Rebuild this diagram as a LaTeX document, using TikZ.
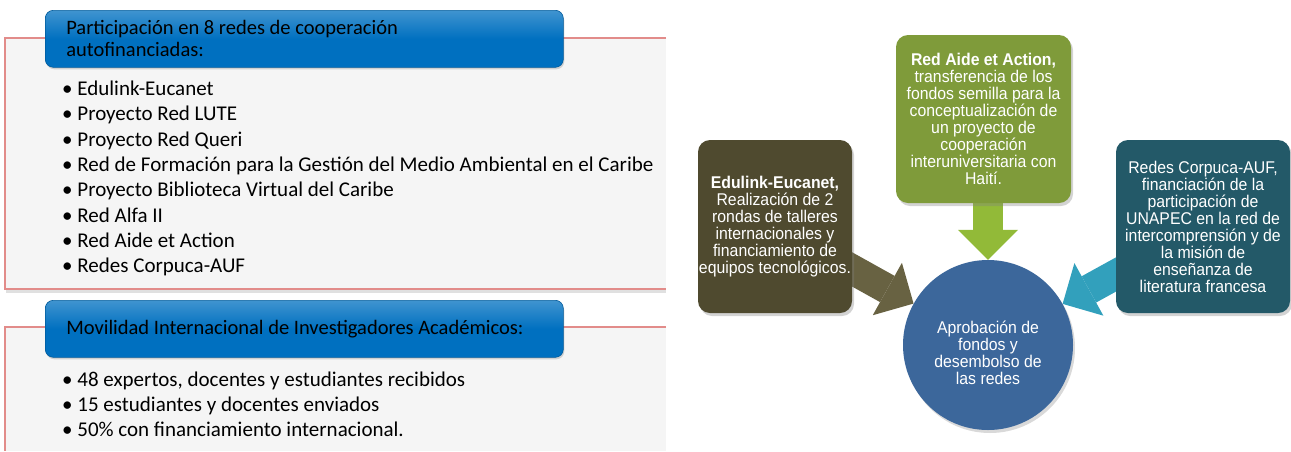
\documentclass[tikz,border=0pt]{standalone}
\usepackage{fontspec}
\setmainfont{Carlito}
\newfontfamily\smartfont[FakeStretch=0.93]{Liberation Sans}
\usepackage{tikz}
\usetikzlibrary{
  arrows.meta,
  positioning,
  shadows,
  backgrounds
}
\definecolor{panelline}{RGB}{226,140,138}
\definecolor{panelfill}{RGB}{245,245,245}
\definecolor{headblue}{RGB}{0,112,192}
\definecolor{oliveC}{RGB}{79,74,47}
\definecolor{greenC}{RGB}{127,155,58}
\definecolor{tealC}{RGB}{35,89,104}
\definecolor{hubC}{RGB}{60,103,155}
\definecolor{oliveA}{RGB}{104,98,66}
\definecolor{greenA}{RGB}{146,186,56}
\definecolor{tealA}{RGB}{50,160,188}

\tikzset{
  header/.style={draw=headblue!80!black, line width=0.6pt, rounded corners=8pt,
    top color=headblue!75!white, bottom color=headblue, middle color=headblue,
    drop shadow={opacity=0.3, shadow xshift=1pt, shadow yshift=-2pt},
    anchor=north west, minimum width=518pt, minimum height=57pt,
    text width=476pt, inner xsep=21pt, inner ysep=0pt, align=flush left,
    font=\fontsize{20.5}{22}\selectfont},
  item/.style={anchor=base west, inner sep=0pt},
  rbox/.style={rounded corners=12pt, text=white, align=center, inner sep=0pt,
    drop shadow={opacity=0.35, shadow xshift=2pt, shadow yshift=-3pt},
    font=\smartfont\fontsize{17}{17}\selectfont},
  blockarrow/.style={line width=30pt, -{Triangle[width=60pt, length=30pt, line width=0pt]}}
}

\begin{document}
\begin{tikzpicture}[x=1pt, y=-1pt, every node/.style={font=\fontsize{21}{25}\selectfont}]
  \useasboundingbox (0,0) rectangle (1291,451);

  % Panels
  \fill[panelfill] (5,38) rectangle (666,289);
  \draw[black!12, line width=3pt] (6,291.5) -- (666,291.5);
  \draw[panelline, line width=1.2pt] (666,38) -- (5,38) -- (5,289) -- (666,289);
  \fill[panelfill] (5,327) rectangle (666,451);
  \draw[panelline, line width=1.2pt] (666,327) -- (5,327) -- (5,451);

  % Headers
  \node[header] (redes) at (45,10) {Participación en 8 redes de cooperación\\autofinanciadas:};
  \node[header] (movil) at (45,300) {Movilidad Internacional de Investigadores Académicos:};

  % Redes
  \node[item] (r1) at (62,95) {\textbullet\ Edulink-Eucanet};
  \node[item] (r2) at (62,120) {\textbullet\ Proyecto Red LUTE};
  \node[item] (r3) at (62,146) {\textbullet\ Proyecto Red Queri};
  \node[item] (r4) at (62,171) {\textbullet\ Red de Formación para la Gestión del Medio Ambiental en el Caribe};
  \node[item] (r5) at (62,196) {\textbullet\ Proyecto Biblioteca Virtual del Caribe};
  \node[item] (r6) at (62,222) {\textbullet\ Red Alfa II};
  \node[item] (r7) at (62,247) {\textbullet\ Red Aide et Action};
  \node[item] (r8) at (62,272) {\textbullet\ Redes Corpuca-AUF};

  % Movilidad
  \node[item] (m1) at (62,386) {\textbullet\ 48 expertos, docentes y estudiantes recibidos};
  \node[item] (m2) at (62,411) {\textbullet\ 15 estudiantes y docentes enviados};
  \node[item] (m3) at (62,436) {\textbullet\ 50\% con financiamiento internacional.};

  % Right diagram
  \node[rbox, fill=oliveC, minimum width=154pt, minimum height=173pt] (edu) at (775,226.5)
    {\textbf{Edulink-Eucanet,}\\Realización de 2\\rondas de talleres\\internacionales y\\financiamiento de\\equipos tecnológicos.};
  \node[rbox, fill=greenC, minimum width=175pt, minimum height=168pt] (aide) at (983.5,119)
    {\textbf{Red Aide et Action,}\\transferencia de los\\fondos semilla para la\\conceptualización de\\un proyecto de\\cooperación\\interuniversitaria con\\Haití.};
  \node[rbox, fill=tealC, minimum width=174pt, minimum height=173pt] (corp) at (1203,226.5)
    {Redes Corpuca-AUF,\\financiación de la\\participación de\\UNAPEC en la red de\\intercomprensión y de\\la misión de\\enseñanza de\\literatura francesa};
  \node[circle, fill=hubC, minimum size=170pt, inner sep=0pt, text=white, align=center,
    drop shadow={opacity=0.3, shadow xshift=2pt, shadow yshift=-3pt},
    font=\smartfont\fontsize{17}{17}\selectfont] (aprob) at (988,345)
    {\rule{0pt}{28pt}Aprobación de\\fondos y\\desembolso de\\las redes};

  % Arrows
  \begin{scope}[on background layer]
    \draw[blockarrow, draw=oliveA, fill=oliveA] (edu.center) -- (aprob);
    \draw[blockarrow, draw=tealA, fill=tealA] (corp.center) -- (aprob);
    \draw[blockarrow, draw=greenA, fill=greenA] (aprob.north |- aide.center) -- (aprob.north);
  \end{scope}
\end{tikzpicture}
\end{document}
